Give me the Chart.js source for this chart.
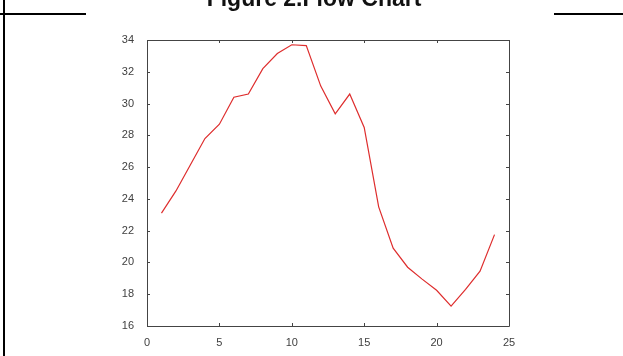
<!DOCTYPE html>
<html lang="en">
<head>
  <meta charset="UTF-8">
  <title>Figure 2.Flow Chart</title>
  <script src="https://cdn.jsdelivr.net/npm/chart.js"></script>
  <style>
    html, body {
      margin: 0;
      padding: 0;
      background: #ffffff;
      overflow: hidden;
    }
    #page {
      position: relative;
      width: 623px;
      height: 356px;
    }
    #chart {
      position: absolute;
      left: 0;
      top: 0;
    }
    .rule {
      position: absolute;
      background: #000;
    }
    #title {
      position: absolute;
      left: 0;
      width: 628px;
      top: -13px;
      text-align: center;
      font-family: "Liberation Sans", Arial, sans-serif;
      font-weight: bold;
      font-size: 23px;
      line-height: 23px;
      color: #111;
    }
  </style>
</head>
<body>
  <div id="page">
    <canvas id="chart" width="623" height="356"></canvas>
    <div id="title">Figure 2.Flow Chart</div>
    <div class="rule" style="left:3px; top:0; width:2px; height:356px;"></div>
    <div class="rule" style="left:0; top:13px; width:86px; height:2px;"></div>
    <div class="rule" style="left:554px; top:13px; width:69px; height:2px;"></div>
  </div>
  <script>
    // values
    const hours = [1, 2, 3, 4, 5, 6, 7, 8, 9, 10, 11, 12, 13, 14, 15, 16, 17, 18, 19, 20, 21, 22, 23, 24];
    const flow = [23.1, 24.5, 26.15, 27.8, 28.7, 30.4, 30.6, 32.2, 33.15, 33.7, 33.65, 31.1, 29.35, 30.6, 28.5, 23.5, 20.9, 19.7, 18.95, 18.25, 17.25, 18.3, 19.45, 21.75];
    const xTicks = [0, 5, 10, 15, 20, 25];
    const yTicks = [16, 18, 20, 22, 24, 26, 28, 30, 32, 34];

    const axisColor = '#444444';
    const labelFont = { family: '"Liberation Sans", Arial, sans-serif', size: 11 };

    // matlab style box with ticks pointing inward
    const boxTicks = {
      id: 'boxTicks',
      afterDatasetsDraw(chart) {
        const { ctx, chartArea: a, scales: { x, y } } = chart;
        ctx.save();
        ctx.strokeStyle = axisColor;
        ctx.lineWidth = 1;
        ctx.beginPath();
        ctx.rect(Math.round(a.left) + 0.5, Math.round(a.top) + 0.5,
                 Math.round(a.right - a.left), Math.round(a.bottom - a.top));
        x.ticks.forEach(t => {
          const px = Math.round(x.getPixelForValue(t.value)) + 0.5;
          ctx.moveTo(px, a.bottom); ctx.lineTo(px, a.bottom - 3);
          ctx.moveTo(px, a.top); ctx.lineTo(px, a.top + 3);
        });
        y.ticks.forEach(t => {
          const py = Math.round(y.getPixelForValue(t.value)) + 0.5;
          ctx.moveTo(a.left, py); ctx.lineTo(a.left + 3, py);
          ctx.moveTo(a.right, py); ctx.lineTo(a.right - 3, py);
        });
        ctx.stroke();
        ctx.restore();
      }
    };

    new Chart(document.getElementById('chart'), {
      type: 'line',
      data: {
        datasets: [{
          data: hours.map((h, i) => ({ x: h, y: flow[i] })),
          borderColor: 'rgb(222, 45, 45)',
          borderWidth: 1.2,
          pointRadius: 0,
          tension: 0,
          fill: false
        }]
      },
      options: {
        responsive: false,
        animation: false,
        layout: { padding: { left: 0, right: 114, top: 40, bottom: 0 } },
        plugins: {
          legend: { display: false },
          tooltip: { enabled: false }
        },
        scales: {
          x: {
            type: 'linear',
            min: 0,
            max: 25,
            afterBuildTicks: s => { s.ticks = xTicks.map(v => ({ value: v })); },
            afterFit: s => { s.height = 30; },
            grid: { display: false },
            border: { display: false },
            ticks: { color: '#404040', font: labelFont, padding: 2, maxRotation: 0 }
          },
          y: {
            min: 16,
            max: 34,
            afterBuildTicks: s => { s.ticks = yTicks.map(v => ({ value: v })); },
            afterFit: s => { s.width = 147; },
            grid: { display: false },
            border: { display: false },
            ticks: { color: '#404040', font: labelFont, padding: 5 }
          }
        }
      },
      plugins: [boxTicks]
    });
  </script>
</body>
</html>
